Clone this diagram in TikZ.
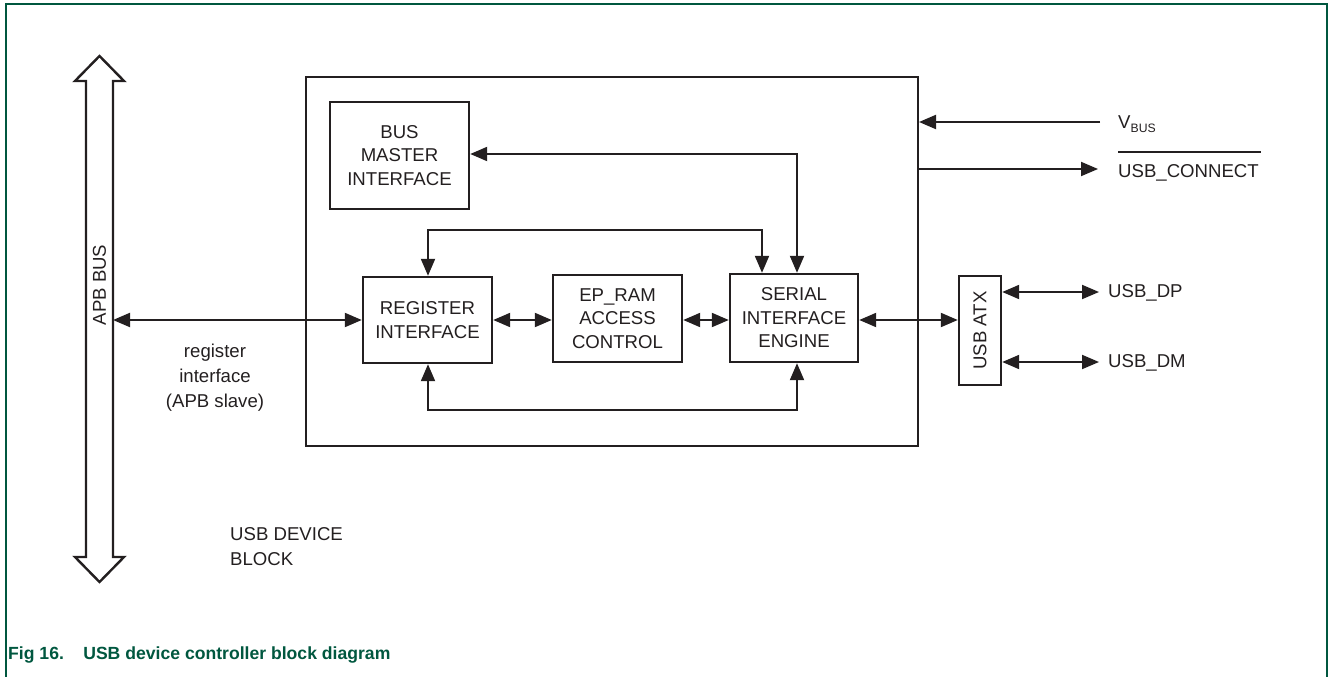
\documentclass[tikz,border=0pt]{standalone}
\usepackage{fontspec}
\setmainfont{Liberation Sans}
\usetikzlibrary{arrows.meta,calc}
\definecolor{nxpgreen}{HTML}{00573F}
\definecolor{ink}{HTML}{231F20}
\tikzset{
  blk/.style={draw=ink,line width=2.4pt,rectangle,inner sep=0pt,align=center,text=ink,font=\fontsize{18.6}{23.5}\selectfont},
  lbl/.style={text=ink,font=\fontsize{18.6}{25}\selectfont,inner sep=0pt},
  conn/.style={draw=ink,line width=2pt,-{Triangle[length=17pt,width=14pt]}},
  bconn/.style={draw=ink,line width=2pt,{Triangle[length=17pt,width=14pt]}-{Triangle[length=17pt,width=14pt]}},
}
\begin{document}
\begin{tikzpicture}[x=1pt,y=-1pt]
\useasboundingbox (0,0) rectangle (1328,677);
% frame
\draw[nxpgreen,line width=1.6pt] (6,677) -- (6,4) -- (1327,4) -- (1327,677);
% APB bus
\draw[ink,line width=2.4pt,line join=miter] (86,81) -- (75,81) -- (99.5,56) -- (124,81) -- (113,81) -- (113,557) -- (124,557) -- (99.5,582) -- (75,557) -- (86,557) -- cycle;
\node[lbl,rotate=90] (apb) at (99.5,285) {APB BUS};
\coordinate (apbr) at (113,320);
% outer
\node[draw=ink,line width=2pt,rectangle,minimum width=612pt,minimum height=369pt,inner sep=0pt] (outer) at (612,261.5) {};
% blocks
\node[blk,minimum width=139pt,minimum height=107pt] (bmi) at (399.5,155.5) {BUS\\MASTER\\INTERFACE};
\node[blk,minimum width=129pt,minimum height=86pt] (reg) at (427.5,320) {REGISTER\\INTERFACE};
\node[blk,minimum width=129pt,minimum height=87pt] (ep) at (617.5,318.5) {EP\_RAM\\ACCESS\\CONTROL};
\node[blk,minimum width=128pt,minimum height=88pt] (sie) at (794,318) {SERIAL\\INTERFACE\\ENGINE};
\node[blk,minimum width=42pt,minimum height=109pt] (atx) at (980,330.5) {};
\node[lbl,rotate=90] (atxl) at (atx.center) {USB ATX};
% connectors
\draw[bconn] (apbr) -- (reg.west |- apbr);
\draw[bconn] (reg.east |- apbr) -- (ep.west |- apbr);
\draw[bconn] (ep.east |- apbr) -- (sie.west |- apbr);
\draw[bconn] (sie.east |- apbr) -- (atx.west |- apbr);
\coordinate (topl) at (428,230);
\coordinate (topr) at (762,230);
\draw[bconn] (reg.north -| topl) -- (topl) -- (topr) -- (sie.north -| topr);
\coordinate (bmr) at (797,154);
\draw[bconn] (bmi.east |- bmr) -- (bmr) -- (sie.north -| bmr);
\coordinate (botl) at (428,410);
\coordinate (botr) at (797,410);
\draw[bconn] (reg.south -| botl) -- (botl) -- (botr) -- (sie.south -| botr);
% right side signals
\node[lbl,anchor=base west] (vbus) at (1118,128) {V\raisebox{-4.5pt}{\fontsize{12.2}{12}\selectfont BUS}};
\node[lbl,anchor=base west] (uconn) at (1118,177) {USB\_CONNECT};
\draw[ink,line width=1.6pt] (1118,152) -- (1261,152);
\coordinate (vbusl) at (1100,122);
\coordinate (uconnl) at (1098,169);
\draw[conn] (vbusl) -- (outer.east |- vbusl);
\draw[conn] (outer.east |- uconnl) -- (uconnl);
\node[lbl,anchor=west] (dp) at (1108,293) {USB\_DP};
\node[lbl,anchor=west] (dm) at (1108,363) {USB\_DM};
\coordinate (dpl) at (1099,292);
\coordinate (dml) at (1099,362);
\draw[bconn] (atx.east |- dpl) -- (dpl);
\draw[bconn] (atx.east |- dml) -- (dml);
% labels
\node[lbl,align=center] (regif) at (215,378) {register\\interface\\(APB slave)};
\node[lbl,align=left,anchor=north west] (blk) at (230,527) {USB DEVICE\\BLOCK};
\node[anchor=west,inner sep=0pt,text=nxpgreen,font=\fontsize{17.6}{20}\bfseries] (cap) at (8,655) {Fig 16.\hspace{1.1em}USB device controller block diagram};
\end{tikzpicture}
\end{document}
